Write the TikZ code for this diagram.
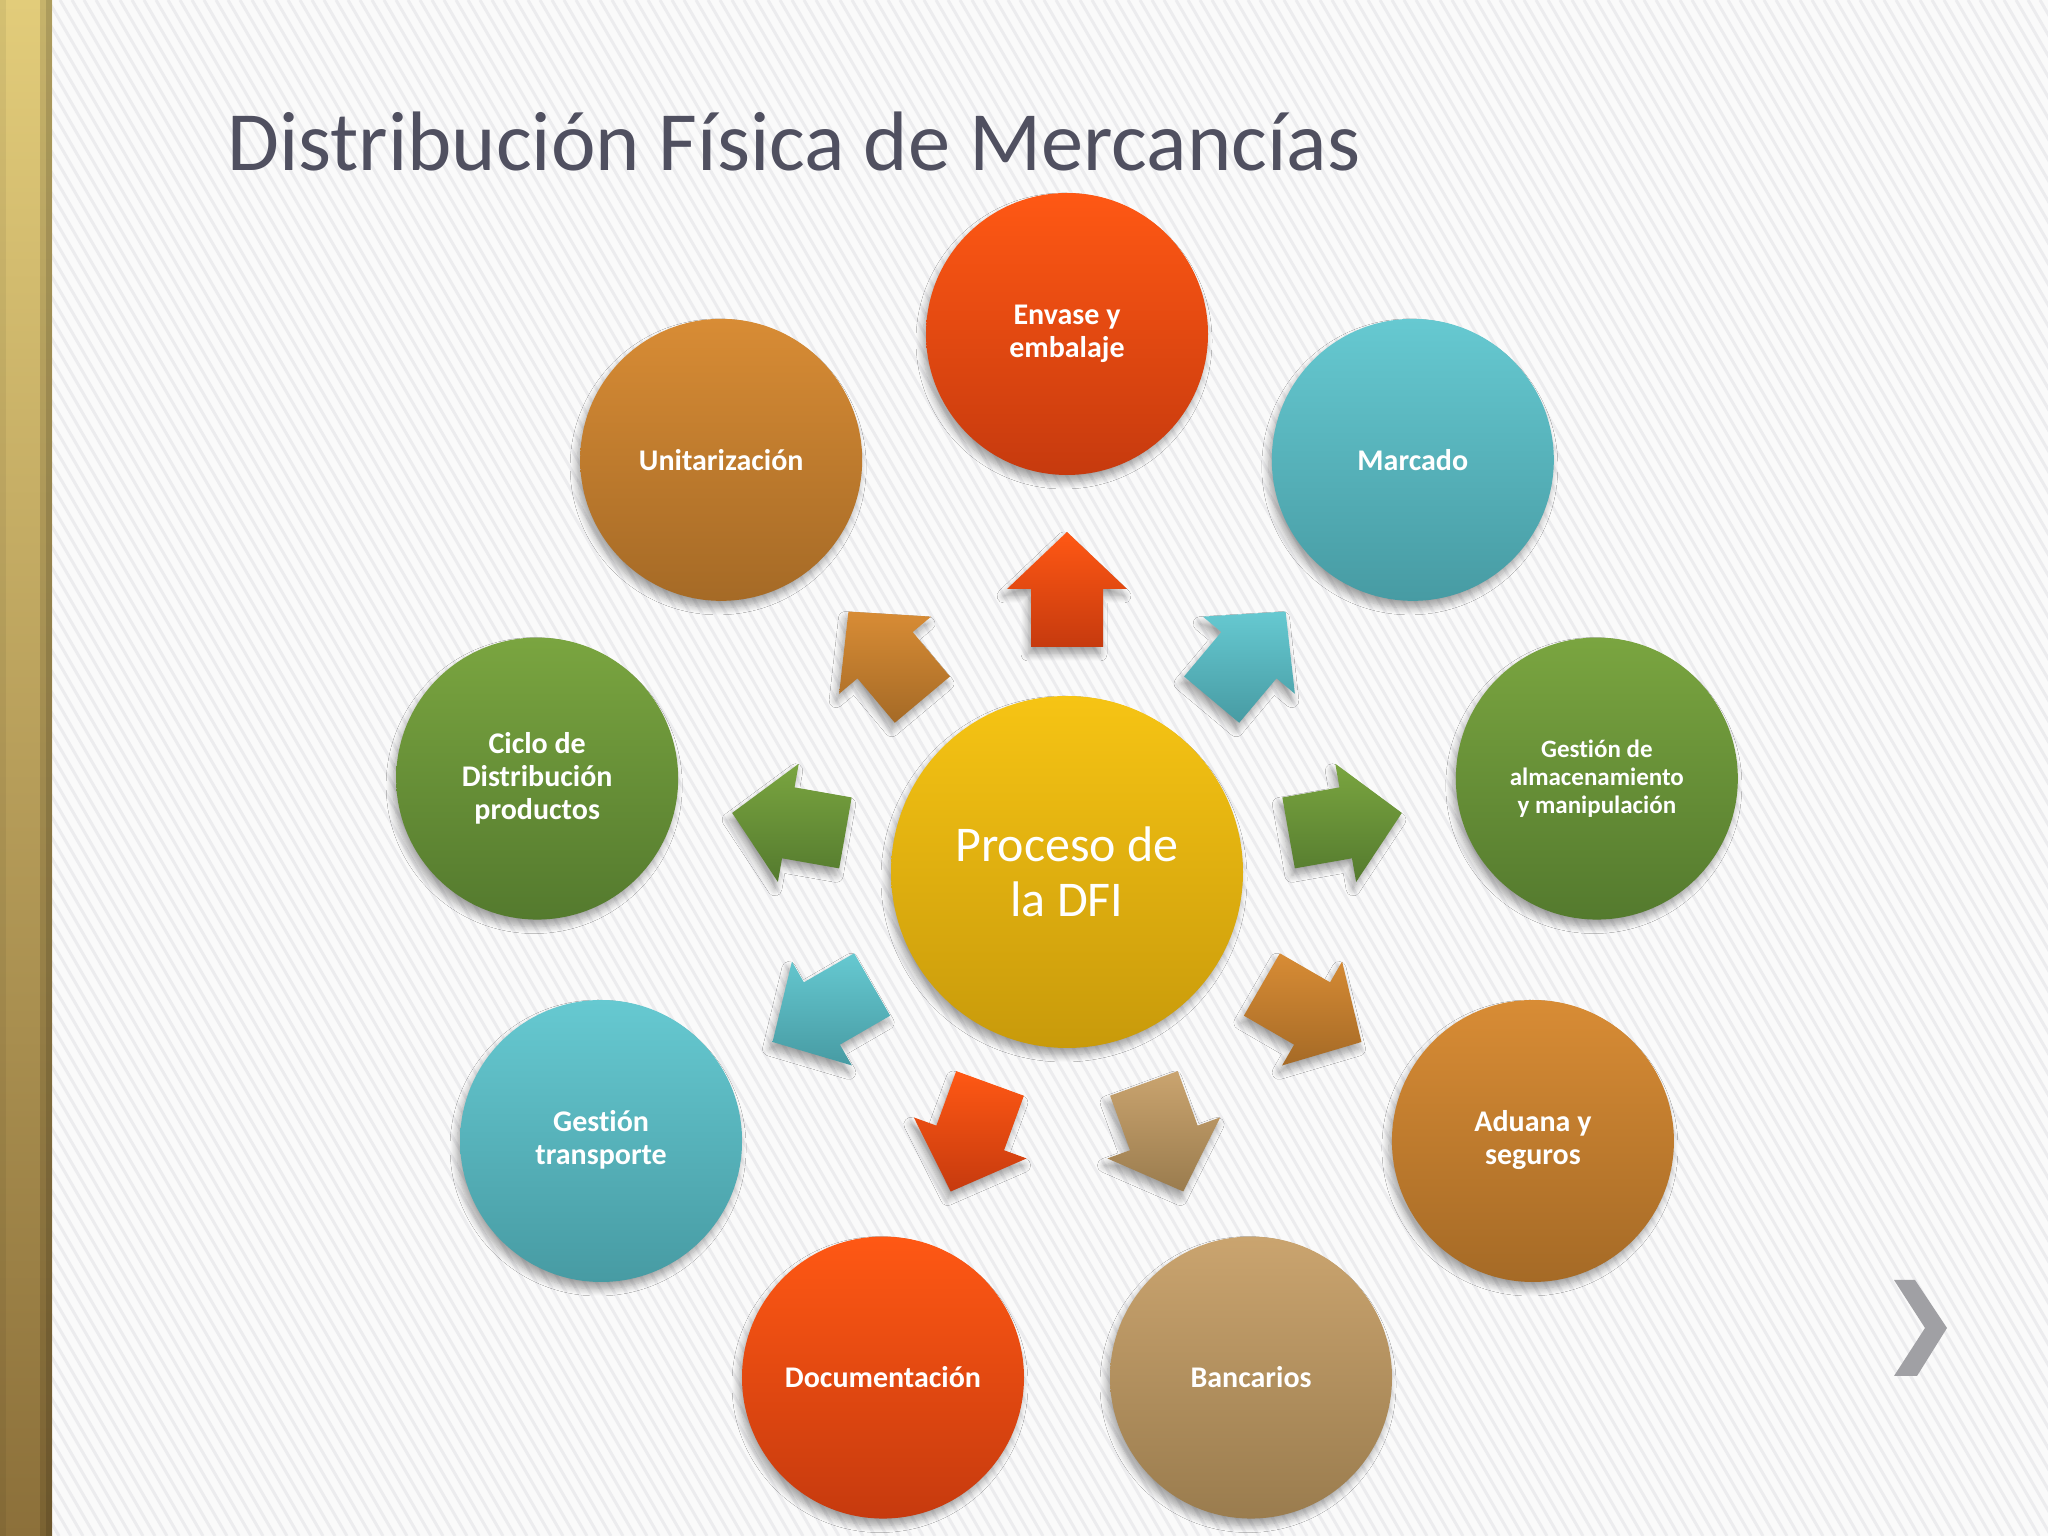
\documentclass[tikz,border=0pt]{standalone}
\usepackage{fontspec}
\setmainfont{Carlito}[Ligatures=NoCommon]
\usetikzlibrary{calc,shadows.blur}
\definecolor{redT}{RGB}{255,88,20}
\definecolor{redB}{RGB}{198,58,14}
\definecolor{tealT}{RGB}{102,201,209}
\definecolor{tealB}{RGB}{71,155,163}
\definecolor{greenT}{RGB}{122,165,64}
\definecolor{greenB}{RGB}{84,122,46}
\definecolor{orT}{RGB}{216,140,53}
\definecolor{orB}{RGB}{165,106,38}
\definecolor{tanT}{RGB}{202,164,111}
\definecolor{tanB}{RGB}{154,124,78}
\definecolor{yelT}{RGB}{246,196,20}
\definecolor{yelB}{RGB}{200,154,11}
\definecolor{titlecol}{RGB}{80,80,96}
\definecolor{chevcol}{RGB}{160,160,164}
\definecolor{goldA}{RGB}{226,204,122}
\definecolor{goldB}{RGB}{212,180,80}
\definecolor{goldC}{RGB}{140,112,58}
\definecolor{bgcol}{RGB}{250,250,250}
\definecolor{stripecol}{RGB}{236,236,238}
\newcommand\blkarrow[3]{%
  \path[shadowed, top color=#2, bottom color=#3]
    ($(C)+(#1:225)+({#1+90}:36)$) -- ($(C)+(#1:283)+({#1+90}:36)$)
    -- ($(C)+(#1:283)+({#1+90}:60)$) -- ($(C)+(#1:340)$)
    -- ($(C)+(#1:283)+({#1-90}:60)$) -- ($(C)+(#1:283)+({#1-90}:36)$)
    -- ($(C)+(#1:225)+({#1-90}:36)$) -- cycle;}
\newcommand\twol[2]{\raisebox{-4pt}{\begin{tabular}{@{}c@{}}#1\\#2\end{tabular}}}
\begin{document}
\begin{tikzpicture}[x=1pt,y=1pt,
  shadowed/.style={blur shadow={shadow xshift=-3pt, shadow yshift=-7pt, shadow blur radius=7pt, shadow blur steps=8, shadow opacity=35}},
  grad/.style 2 args={top color=#1, bottom color=#2},
  outer/.style={circle, minimum size=282pt, inner sep=0pt, text=white, align=center,
    font=\bfseries\fontsize{30}{33}\selectfont, shadowed}]
\useasboundingbox (0,0) rectangle (2048,1536);
% background
\fill[bgcol] (50,0) rectangle (2048,1536);
\begin{scope}
  \clip (50,0) rectangle (2048,1536);
  \foreach \x in {-900,-888,...,2050}
    \draw[stripecol, line width=3pt] (\x,1536) -- (\x+887,0);
\end{scope}
% left bar
\shade[top color=goldA, middle color=goldB, bottom color=goldC] (0,0) rectangle (52,1536);
\fill[black, opacity=0.12] (40,0) rectangle (52,1536);
\fill[black, opacity=0.12] (46,0) rectangle (52,1536);
\fill[black, opacity=0.06] (0,0) rectangle (6,1536);
% title
\node[anchor=base west, text=titlecol, font=\fontsize{84.4}{100}\selectfont, inner sep=0pt]
  (title) at (227,1365) {Distribución Física de Mercancías};
% center
\node[circle, minimum size=352pt, inner sep=0pt, grad={yelT}{yelB}, text=white, align=center,
  font=\fontsize{50}{55}\selectfont, shadowed] (C) at (1067,664) {Proceso de\\la DFI};
% arrows
\blkarrow{90}{redT}{redB}
\blkarrow{50}{tealT}{tealB}
\blkarrow{10}{greenT}{greenB}
\blkarrow{-30}{orT}{orB}
\blkarrow{-70}{tanT}{tanB}
\blkarrow{-110}{redT}{redB}
\blkarrow{-150}{tealT}{tealB}
\blkarrow{170}{greenT}{greenB}
\blkarrow{130}{orT}{orB}
% outer circles
\node[outer, grad={redT}{redB}] (n1) at ($(C)+(90:538)$) {\twol{Envase y}{embalaje}};
\node[outer, grad={tealT}{tealB}] (n2) at ($(C)+(50:538)$) {Marcado};
\node[outer, grad={greenT}{greenB}, font=\bfseries\fontsize{25}{28}\selectfont] (n3) at ($(C)+(10:538)$) {Gestión de\\almacenamiento\\y manipulación};
\node[outer, grad={orT}{orB}] (n4) at ($(C)+(-30:538)$) {\twol{Aduana y}{seguros}};
\node[outer, grad={tanT}{tanB}] (n5) at ($(C)+(-70:538)$) {Bancarios};
\node[outer, grad={redT}{redB}] (n6) at ($(C)+(-110:538)$) {Documentación};
\node[outer, grad={tealT}{tealB}] (n7) at ($(C)+(-150:538)$) {\twol{Gestión}{transporte}};
\node[outer, grad={greenT}{greenB}] (n8) at ($(C)+(170:538)$) {Ciclo de\\Distribución\\productos};
\node[outer, grad={orT}{orB}] (n9) at ($(C)+(130:538)$) {Unitarización};
% chevron
\fill[chevcol] (1894,256) -- (1915,256) -- (1947,208) -- (1917,160) -- (1894,160) -- (1925,208) -- cycle;
\end{tikzpicture}
\end{document}
